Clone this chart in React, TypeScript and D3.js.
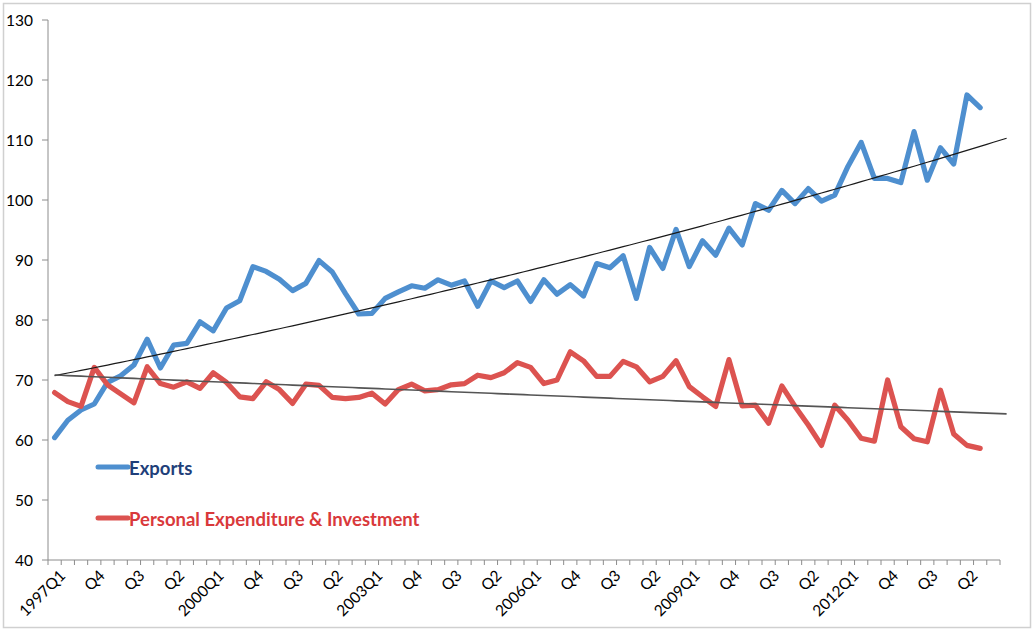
import React from "react";
import * as d3 from "d3";

const startYear = 1997;
const categoryCount = 72;
const categories: string[] = Array.from({ length: categoryCount }, (_, i) =>
  `${startYear + Math.floor(i / 4)}Q${(i % 4) + 1}`
);
const tickLabels: string[] = [
  "1997Q1", "Q4", "Q3", "Q2", "2000Q1", "Q4", "Q3", "Q2",
  "2003Q1", "Q4", "Q3", "Q2", "2006Q1", "Q4", "Q3", "Q2",
  "2009Q1", "Q4", "Q3", "Q2", "2012Q1", "Q4", "Q3", "Q2",
];
const yTicks: number[] = [40, 50, 60, 70, 80, 90, 100, 110, 120, 130];

const exportsValues: number[] = [
  60.4, 63.3, 65.0, 66.0, 69.6, 70.7, 72.5, 76.8, 72.0, 75.8,
  76.1, 79.7, 78.2, 82.0, 83.2, 88.9, 88.1, 86.8, 84.9, 86.1,
  89.9, 88.0, 84.4, 81.0, 81.1, 83.6, 84.7, 85.7, 85.3, 86.7,
  85.8, 86.5, 82.3, 86.5, 85.4, 86.5, 83.1, 86.7, 84.3, 85.9,
  84.0, 89.4, 88.7, 90.7, 83.6, 92.1, 88.6, 95.1, 88.9, 93.2,
  90.8, 95.3, 92.5, 99.4, 98.3, 101.6, 99.4, 101.9, 99.8, 100.8,
  105.6, 109.6, 103.6, 103.6, 102.9, 111.4, 103.3, 108.7, 106.0, 117.5,
  115.4,
];
const peValues: number[] = [
  67.9, 66.4, 65.6, 72.1, 69.2, 67.7, 66.2, 72.2, 69.4, 68.8,
  69.7, 68.6, 71.2, 69.6, 67.2, 66.9, 69.7, 68.4, 66.1, 69.3,
  69.1, 67.1, 66.9, 67.1, 67.8, 66.0, 68.4, 69.3, 68.2, 68.4,
  69.2, 69.4, 70.8, 70.4, 71.2, 72.9, 72.1, 69.4, 70.0, 74.7,
  73.2, 70.6, 70.6, 73.1, 72.2, 69.7, 70.6, 73.2, 68.9, 67.2,
  65.6, 73.4, 65.7, 65.8, 62.8, 69.0, 65.6, 62.5, 59.1, 65.8,
  63.3, 60.3, 59.8, 70.0, 62.2, 60.2, 59.7, 68.3, 61.0, 59.1,
  58.6,
];
const trendForward = 2;

const W = 1035;
const H = 633;
const BLUE = "#4e8fcf";
const RED = "#dc5350";
const FONT = "Lato, 'Open Sans', sans-serif";

function expFit(vals: number[]) {
  const n = vals.length;
  const xs = vals.map((_, i) => i);
  const ls = vals.map((v) => Math.log(v));
  const mx = d3.mean(xs) as number;
  const ml = d3.mean(ls) as number;
  let sxy = 0, sxx = 0;
  for (let i = 0; i < n; i++) {
    sxy += (xs[i] - mx) * (ls[i] - ml);
    sxx += (xs[i] - mx) * (xs[i] - mx);
  }
  const b = sxy / sxx;
  const a = ml - b * mx;
  return (k: number) => Math.exp(a + b * k);
}

export default function App() {
  const x = d3.scaleBand<string>().domain(categories).range([48, 1000]).padding(0);
  const bw = x.bandwidth();
  const xi = (k: number) => (x(categories[0]) as number) + bw * (k + 0.5);
  const y = d3.scaleLinear().domain([40, 130]).range([560, 20]);

  const line = d3
    .line<number>()
    .x((_, i) => xi(i))
    .y((d) => y(d));

  const trendPath = (vals: number[]) => {
    const f = expFit(vals);
    const last = vals.length - 1 + trendForward;
    const pts = d3.range(0, last + 0.001, 0.5);
    return d3
      .line<number>()
      .x((k) => xi(k))
      .y((k) => y(f(k)))(pts) as string;
  };

  const boundaries = d3.range(0, categoryCount + 1).map((i) => 48 + bw * i);

  return (
    <svg
      width={W}
      height={H}
      style={{ position: "absolute", left: 0, top: 0, display: "block", background: "#fff" }}
    >
      <rect x={3.5} y={3.5} width={1027} height={624} fill="#fff" stroke="#d0d0d0" strokeWidth={1.5} />
      {/* y axis */}
      <line x1={48} x2={48} y1={20} y2={560} stroke="#8c8c8c" strokeWidth={1} />
      {yTicks.map((t) => (
        <g key={t}>
          <line x1={42} x2={48} y1={y(t)} y2={y(t)} stroke="#8c8c8c" />
          <text
            x={33}
            y={y(t) + 5.5}
            textAnchor="end"
            fontFamily={FONT}
            fontSize={15.5}
            fill="#000"
          >
            {t}
          </text>
        </g>
      ))}
      {/* x axis */}
      <line x1={48} x2={1000} y1={560} y2={560} stroke="#8c8c8c" strokeWidth={1} />
      {boundaries.map((bx, i) => (
        <line key={i} x1={bx} x2={bx} y1={560} y2={565} stroke="#8c8c8c" />
      ))}
      {tickLabels.map((lab, j) => {
        const k = j * 3;
        const cx = xi(k) + 4;
        const cy = 569;
        return (
          <text
            key={j}
            transform={`translate(${cx},${cy}) rotate(-45)`}
            textAnchor="end"
            dy="0.7em"
            fontFamily={FONT}
            fontSize={15.5}
            fill="#000"
          >
            {lab}
          </text>
        );
      })}
      {/* series */}
      <path d={line(exportsValues) as string} fill="none" stroke={BLUE} strokeWidth={5.2} strokeLinejoin="round" strokeLinecap="round" />
      <path d={line(peValues) as string} fill="none" stroke={RED} strokeWidth={5.2} strokeLinejoin="round" strokeLinecap="round" />
      {/* trend lines */}
      <path d={trendPath(exportsValues)} fill="none" stroke="#1a1a1a" strokeWidth={1.2} />
      <path d={trendPath(peValues)} fill="none" stroke="#555" strokeWidth={1.6} />
      {/* legend */}
      <line x1={98} x2={128} y1={467} y2={467} stroke={BLUE} strokeWidth={5} strokeLinecap="round" />
      <text x={129} y={475} fontFamily={FONT} fontWeight="bold" fontSize={18.5} fill="#1f3f7a">
        Exports
      </text>
      <line x1={98} x2={128} y1={518} y2={518} stroke={RED} strokeWidth={5} strokeLinecap="round" />
      <text x={129} y={526} fontFamily={FONT} fontWeight="bold" fontSize={18.5} fill="#d9393b">
        Personal Expenditure &amp; Investment
      </text>
    </svg>
  );
}
